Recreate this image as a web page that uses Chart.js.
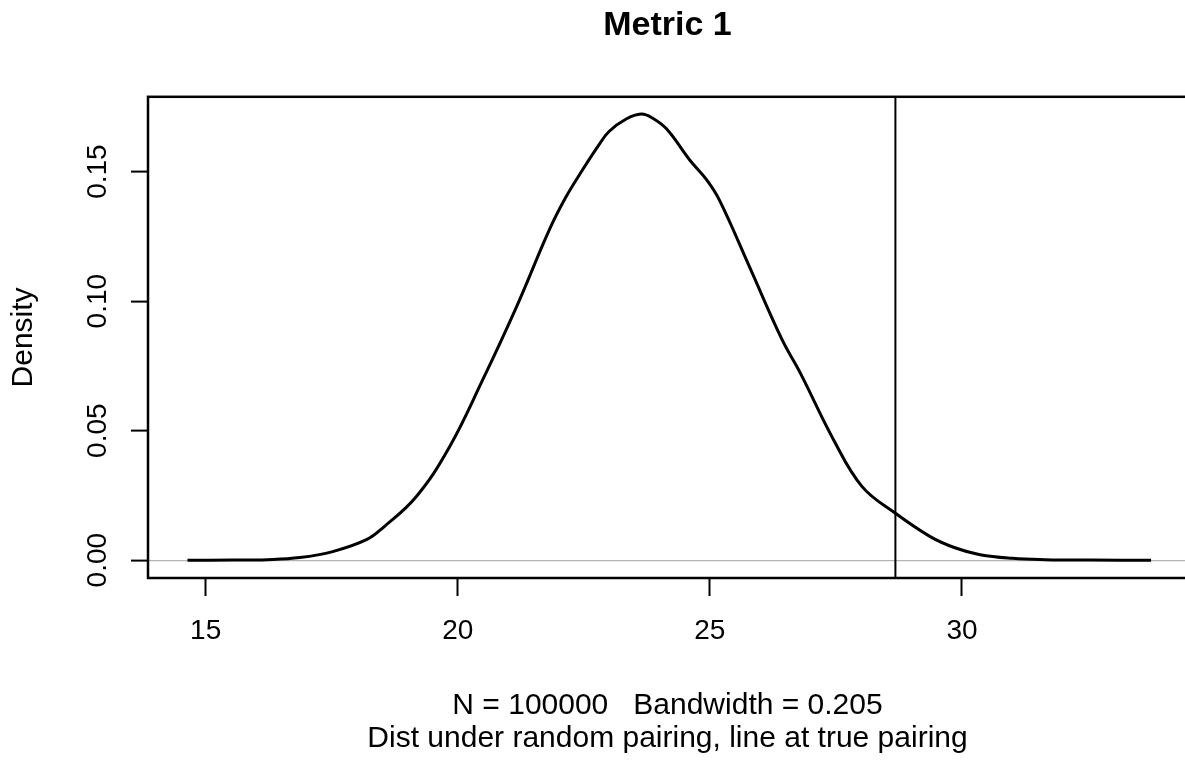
<!DOCTYPE html>
<html>
<head>
<meta charset="utf-8">
<title>Metric 1</title>
<script src="https://cdn.jsdelivr.net/npm/chart.js@4.4.0/dist/chart.umd.min.js"></script>
<style>
    html, body { margin: 0; padding: 0; background: #fff; overflow: hidden; }
    canvas { display: block; }
</style>
</head>
<body>
<canvas id="densityChart" width="1200" height="766"></canvas>
<script>
// kernel density of the metric under random pairing
let density_x = [14.64, 15.52, 16.22, 16.87, 17.52, 18.19, 18.52, 19.18, 19.83, 20.48,
    21.17, 21.82, 22.14, 22.47, 22.79, 23.0, 23.34, 23.64, 23.85, 24.14,
    24.6, 24.93, 25.19, 25.78, 26.43, 26.8, 27.45, 28.02, 28.66, 29.37,
    29.86, 30.36, 31.0, 31.65, 32.55, 33.75];
let density_y = [0, 0.00005, 0.0002, 0.001, 0.0033, 0.0079, 0.0126, 0.0246, 0.0435, 0.069,
    0.098, 0.1277, 0.140, 0.1505, 0.160, 0.1655, 0.1703, 0.1722, 0.1708, 0.1665,
    0.1545, 0.147, 0.139, 0.1135, 0.0852, 0.072, 0.0466, 0.0284, 0.0184, 0.0091,
    0.0048, 0.0021, 0.0007, 0.0002, 0.00003, 0];
let true_pairing = 28.68;
let x_ticks = [15, 20, 25, 30];
let y_ticks = [0, 0.05, 0.10, 0.15];
let x_range = [13.857, 34.463];
let y_range = [-0.00688, 0.17888];
let main_title = 'Metric 1';
let x_title = ['N = 100000   Bandwidth = 0.205', 'Dist under random pairing, line at true pairing'];
let y_title = 'Density';

Chart.defaults.font.family = "'Liberation Sans', Arial, sans-serif";
Chart.defaults.color = '#000';

let curve = [];
for (let i = 0; i < density_x.length; i++) {
    curve.push({ x: density_x[i], y: density_y[i] });
}

// R style box around the plot region
const plotBox = {
    id: 'plotBox',
    afterDraw(chart) {
        const a = chart.chartArea;
        const ctx = chart.ctx;
        ctx.save();
        ctx.strokeStyle = '#000';
        ctx.lineWidth = 2.5;
        ctx.strokeRect(a.left, a.top, a.right - a.left, a.bottom - a.top);
        ctx.restore();
    }
};

var ctx = document.getElementById('densityChart');
var chart = new Chart(ctx, {
    type: 'line',
    data: {
        datasets: [
            {
                label: 'density',
                data: curve,
                borderColor: '#000',
                borderWidth: 3,
                pointRadius: 0,
                fill: false,
                tension: 0.4
            },
            {
                label: 'true pairing',
                data: [{ x: true_pairing, y: -1 }, { x: true_pairing, y: 1 }],
                borderColor: '#000',
                borderWidth: 2,
                pointRadius: 0,
                fill: false
            }
        ]
    },
    plugins: [plotBox],
    options: {
        responsive: false,
        animation: false,
        layout: { padding: { left: 0, right: 13, top: 0, bottom: 0 } },
        scales: {
            x: {
                type: 'linear',
                position: 'bottom',
                min: x_range[0],
                max: x_range[1],
                afterBuildTicks: (s) => { s.ticks = x_ticks.map(v => ({ value: v })); },
                afterFit: (s) => { s.height = 188; },
                ticks: {
                    font: { size: 28 },
                    padding: 18,
                    maxRotation: 0,
                    callback: (v) => String(v)
                },
                grid: {
                    drawOnChartArea: false,
                    tickLength: 18,
                    tickColor: '#000',
                    tickWidth: 2
                },
                border: { display: false },
                title: {
                    display: true,
                    text: x_title,
                    font: { size: 30, lineHeight: 1.1 },
                    padding: { top: 0, bottom: 11 }
                }
            },
            y: {
                type: 'linear',
                position: 'left',
                min: y_range[0],
                max: y_range[1],
                afterBuildTicks: (s) => { s.ticks = y_ticks.map(v => ({ value: v })); },
                afterFit: (s) => { s.width = 148; },
                ticks: {
                    font: { size: 28 },
                    padding: 5,
                    minRotation: 90,
                    maxRotation: 90,
                    crossAlign: 'center',
                    callback: (v) => v.toFixed(2)
                },
                grid: {
                    drawOnChartArea: true,
                    color: (c) => (c.tick && c.tick.value === 0 ? '#b4b4b4' : 'rgba(0,0,0,0)'),
                    lineWidth: 1.2,
                    tickLength: 17,
                    tickColor: '#000',
                    tickWidth: 2
                },
                border: { display: false },
                title: {
                    display: true,
                    text: y_title,
                    font: { size: 30 },
                    padding: { top: 6, bottom: 0 }
                }
            }
        },
        plugins: {
            legend: { display: false },
            tooltip: { enabled: false },
            title: {
                display: true,
                text: main_title,
                fullSize: false,
                font: { size: 34, weight: 'bold', lineHeight: 1.2 },
                padding: { top: 5, bottom: 51 }
            }
        }
    }
});
</script>
</body>
</html>
